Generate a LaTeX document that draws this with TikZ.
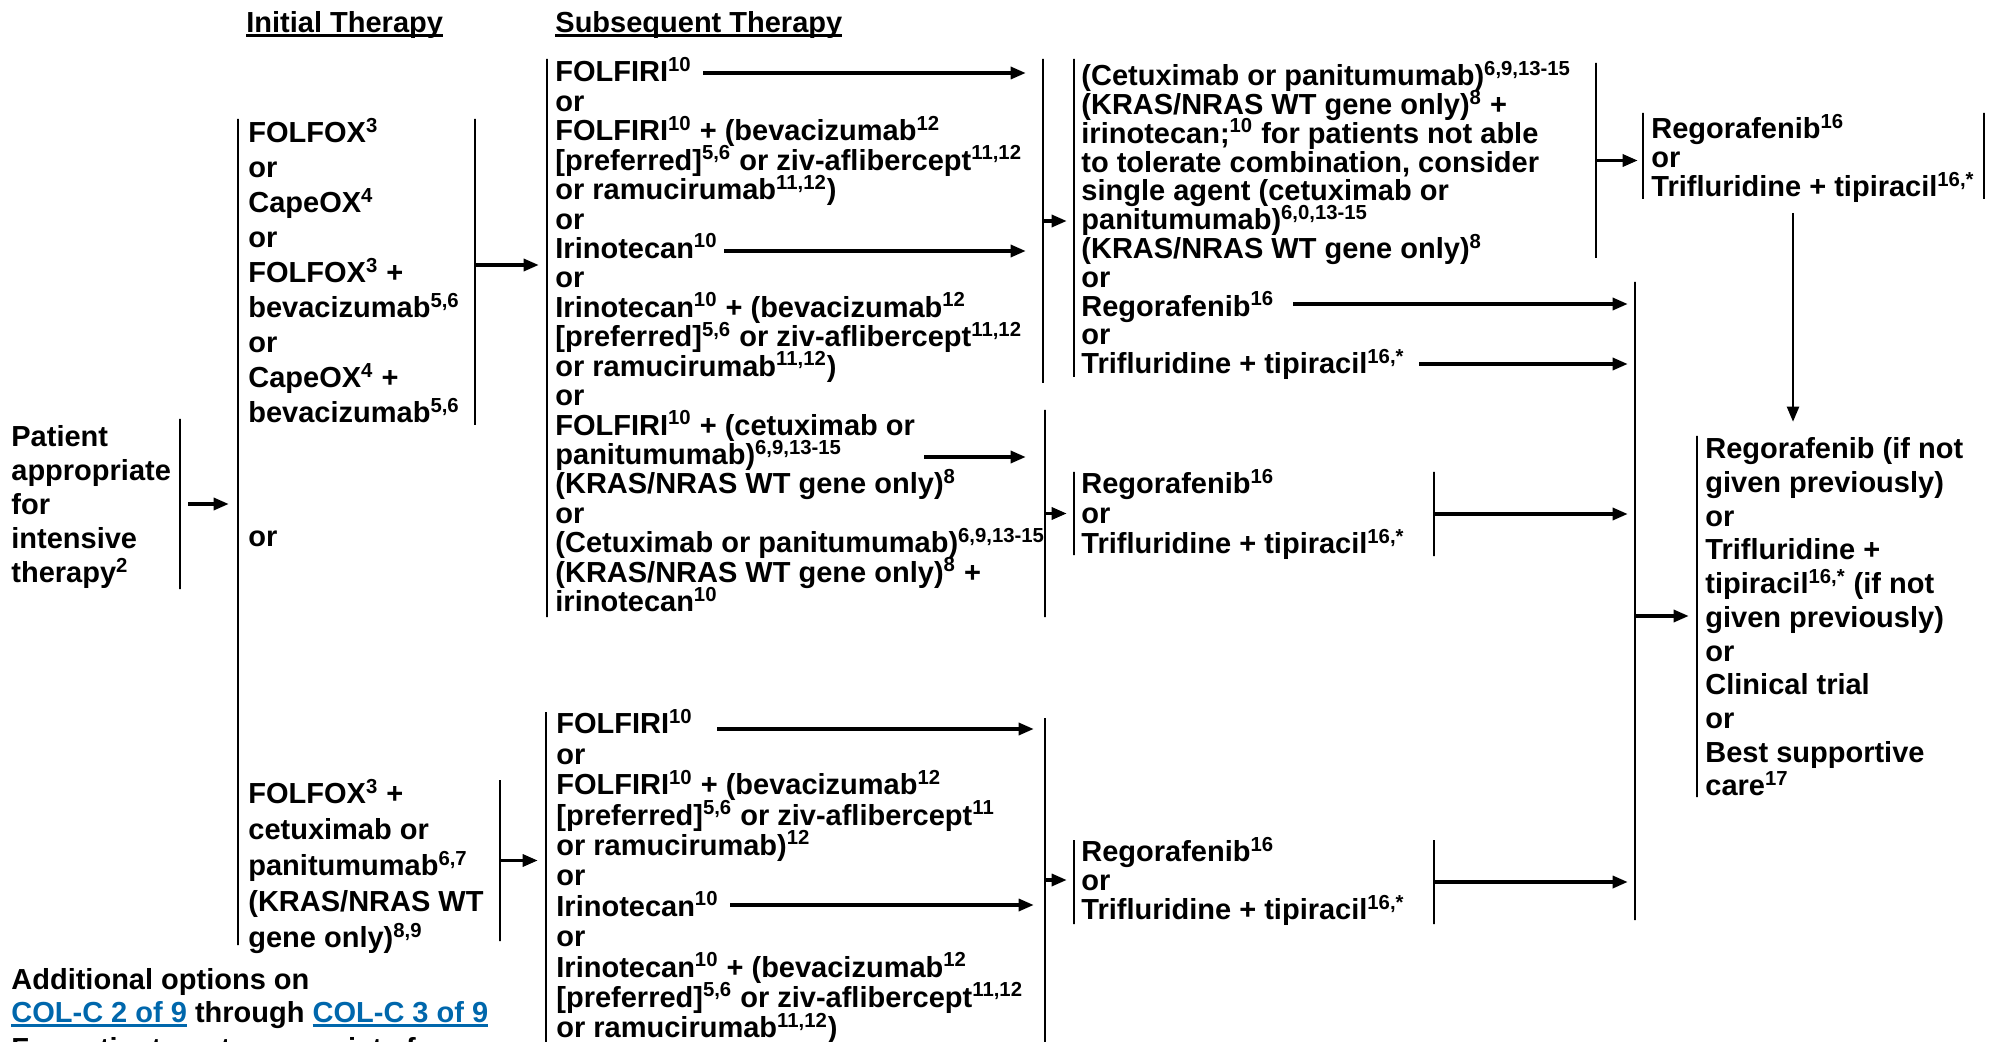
\documentclass[tikz,border=0pt]{standalone}
\usepackage{fontspec}
\setmainfont{Liberation Sans}
\usetikzlibrary{arrows.meta}
\usetikzlibrary{fit}
\definecolor{linkblue}{RGB}{0,103,172}
\tikzstyle{bar}=[draw, line width=1.3pt, inner sep=0pt, minimum width=0pt, minimum height=0pt]
\newcommand{\nref}[1]{\textsuperscript{#1}}
\newcommand{\uln}[1]{\setbox0=\hbox{#1}\rlap{\vrule height -0.6pt depth 1.9pt width \wd0}\box0}
\newcommand{\lnk}[1]{\textcolor{linkblue}{\uln{#1}}}
\newcommand{\lnstrut}{\rule{0pt}{13.5pt}}
\lineskiplimit=-50pt

\begin{document}
\begin{tikzpicture}
      [x=0.5pt, y=-0.5pt, >={Triangle[length=7.5pt, width=6pt]},
      txt/.style={inner sep=0pt, anchor=north west, align=left,
        font=\bfseries\fontsize{14.5}{#1}\selectfont},
      arr/.style={->, line width=1.6pt, shorten >=3pt},
      thinarr/.style={->, line width=1.1pt}]
      \useasboundingbox (0,0) rectangle (2011,1042);
      \clip (0,0) rectangle (2011,1042);
      % Place nodes
      \node [txt=17] (hinit) at (246,5.4) {\lnstrut\uln{Initial Therapy}};
      \node [txt=17] (hsubs) at (555,5.4) {\lnstrut\uln{Subsequent Therapy}};
      \node [txt=17] (patient) at (11,419.4) {\lnstrut Patient\\appropriate\\for\\intensive\\therapy\nref{2}};
      \node [txt=17.5] (init1) at (248,115.4) {\lnstrut FOLFOX\nref{3}\\or\\CapeOX\nref{4}\\or\\FOLFOX\nref{3} +\\bevacizumab\nref{5,6}\\or\\CapeOX\nref{4} +\\bevacizumab\nref{5,6}};
      \node [txt=17] (initor) at (248,519.4) {\lnstrut or};
      \node [txt=18] (init2) at (248,776.4) {\lnstrut FOLFOX\nref{3} +\\cetuximab or\\panitumumab\nref{6,7}\\(KRAS/NRAS WT\\gene only)\nref{8,9}};
      \node [txt=14.72] (subs1) at (555,54.4) {\lnstrut FOLFIRI\nref{10}\\or\\FOLFIRI\nref{10} + (bevacizumab\nref{12}\\{[preferred]}\nref{5,6} or ziv-aflibercept\nref{11,12}\\or ramucirumab\nref{11,12})\\or\\Irinotecan\nref{10}\\or\\Irinotecan\nref{10} + (bevacizumab\nref{12}\\{[preferred]}\nref{5,6} or ziv-aflibercept\nref{11,12}\\or ramucirumab\nref{11,12})\\or\\FOLFIRI\nref{10} + (cetuximab or\\panitumumab)\nref{6,9,13-15}\\(KRAS/NRAS WT gene only)\nref{8}\\or\\(Cetuximab or panitumumab)\nref{6,9,13-15}\\(KRAS/NRAS WT gene only)\nref{8} +\\irinotecan\nref{10}};
      \node [txt=15.2] (subs2) at (556,706.4) {\lnstrut FOLFIRI\nref{10}\\or\\FOLFIRI\nref{10} + (bevacizumab\nref{12}\\{[preferred]}\nref{5,6} or ziv-aflibercept\nref{11}\\or ramucirumab)\nref{12}\\or\\Irinotecan\nref{10}\\or\\Irinotecan\nref{10} + (bevacizumab\nref{12}\\{[preferred]}\nref{5,6} or ziv-aflibercept\nref{11,12}\\or ramucirumab\nref{11,12})};
      \node [txt=14.4] (cetux) at (1081,58.4) {\lnstrut(Cetuximab or panitumumab)\nref{6,9,13-15}\\(KRAS/NRAS WT gene only)\nref{8} +\\irinotecan;\nref{10} for patients not able\\to tolerate combination, consider\\single agent (cetuximab or\\panitumumab)\nref{6,0,13-15}\\(KRAS/NRAS WT gene only)\nref{8}\\or\\Regorafenib\nref{16}\\or\\Trifluridine + tipiracil\nref{16,*}};
      \node [txt=14.5] (regtop) at (1651,111.4) {\lnstrut Regorafenib\nref{16}\\or\\Trifluridine + tipiracil\nref{16,*}};
      \node [txt=15] (regmid) at (1081,466.4) {\lnstrut Regorafenib\nref{16}\\or\\Trifluridine + tipiracil\nref{16,*}};
      \node [txt=14.5] (regbot) at (1081,834.4) {\lnstrut Regorafenib\nref{16}\\or\\Trifluridine + tipiracil\nref{16,*}};
      \node [txt=16.85] (final) at (1705,431.4) {\lnstrut Regorafenib (if not\\given previously)\\or\\Trifluridine +\\tipiracil\nref{16,*} (if not\\given previously)\\or\\Clinical trial\\or\\Best supportive\\care\nref{17}};
      \node [txt=16.5] (foot) at (11,962.4) {\lnstrut Additional options on\\\lnk{COL-C 2 of 9} through \lnk{COL-C 3 of 9}\\[1.5pt]For patients not appropriate for};
      % Brackets
      \node [bar, fit={(180,419) (180,589)}] (pbar) {};
      \node [bar, fit={(238,119) (238,945)}] (ibar) {};
      \node [bar, fit={(475,119) (475,425)}] (i1bar) {};
      \node [bar, fit={(500,780) (500,941)}] (i2bar) {};
      \node [bar, fit={(547,59) (547,617)}] (s1bar) {};
      \node [bar, fit={(1043,59) (1043,383)}] (s1rbar) {};
      \node [bar, fit={(1045,410) (1045,617)}] (s1r2bar) {};
      \node [bar, fit={(546,712) (546,1060)}] (s2bar) {};
      \node [bar, fit={(1045,718) (1045,1042)}] (s2rbar) {};
      \node [bar, fit={(1074,59) (1074,377)}] (cbar) {};
      \node [bar, fit={(1596,63) (1596,258)}] (crbar) {};
      \node [bar, fit={(1643,113) (1643,199)}] (rtl) {};
      \node [bar, fit={(1984,113) (1984,199)}] (rtr) {};
      \node [bar, fit={(1074,472) (1074,555)}] (rml) {};
      \node [bar, fit={(1434,472) (1434,556)}] (rmr) {};
      \node [bar, fit={(1074,840) (1074,924)}] (rbl) {};
      \node [bar, fit={(1434,840) (1434,924)}] (rbr) {};
      \node [bar, fit={(1635,282) (1635,920)}] (coll) {};
      \node [bar, fit={(1697,436) (1697,797)}] (fbar) {};
      % Arrow starts after the text
      \coordinate (folA) at (703,73);
      \coordinate (iriA) at (724,251);
      \coordinate (panA) at (924,457);
      \coordinate (folB) at (717,729);
      \coordinate (iriB) at (730,905);
      \coordinate (regA) at (1293,304);
      \coordinate (triA) at (1419,364);
      \coordinate (down) at (1793,213);
      % Draw edges
      \draw [arr, shorten <=3.5pt, shorten >=4pt] (pbar.east) -- (pbar.east -| ibar.west);
      \draw [arr, shorten >=3.5pt] ([yshift=3.5pt]i1bar.east) -- ([yshift=3.5pt]i1bar.east -| s1bar.west);
      \draw [arr, shorten >=3.5pt] (i2bar.east) -- (i2bar.east -| s2bar.west);
      \draw [arr, shorten >=8pt] (folA) -- (folA -| s1rbar.west);
      \draw [arr, shorten >=8pt] (iriA) -- (iriA -| s1rbar.west);
      \draw [arr, shorten >=9pt] (panA) -- (panA -| s1r2bar.west);
      \draw [arr, shorten >=5pt] (folB) -- (folB -| s2rbar.west);
      \draw [arr, shorten >=5pt] (iriB) -- (iriB -| s2rbar.west);
      \draw [arr] (s1rbar.east) -- (s1rbar.east -| cbar.west);
      \draw [arr] (s1r2bar.east) -- (s1r2bar.east -| rml.west);
      \draw [arr] (s2rbar.east) -- (s2rbar.east -| rbl.west);
      \draw [arr, shorten >=2pt] (crbar.east) -- (crbar.east -| rtl.west);
      \draw [arr] (regA) -- (regA -| coll.west);
      \draw [arr] (triA) -- (triA -| coll.west);
      \draw [arr] (rmr.east) -- (rmr.east -| coll.west);
      \draw [arr] (rbr.east) -- (rbr.east -| coll.west);
      \draw [arr, shorten >=3.5pt] ([yshift=-7.5pt]coll.east) -- ([yshift=-7.5pt]coll.east -| fbar.west);
      \draw [thinarr, shorten >=6.5pt] (down) -- (down |- fbar.north);
\end{tikzpicture}
\end{document}
